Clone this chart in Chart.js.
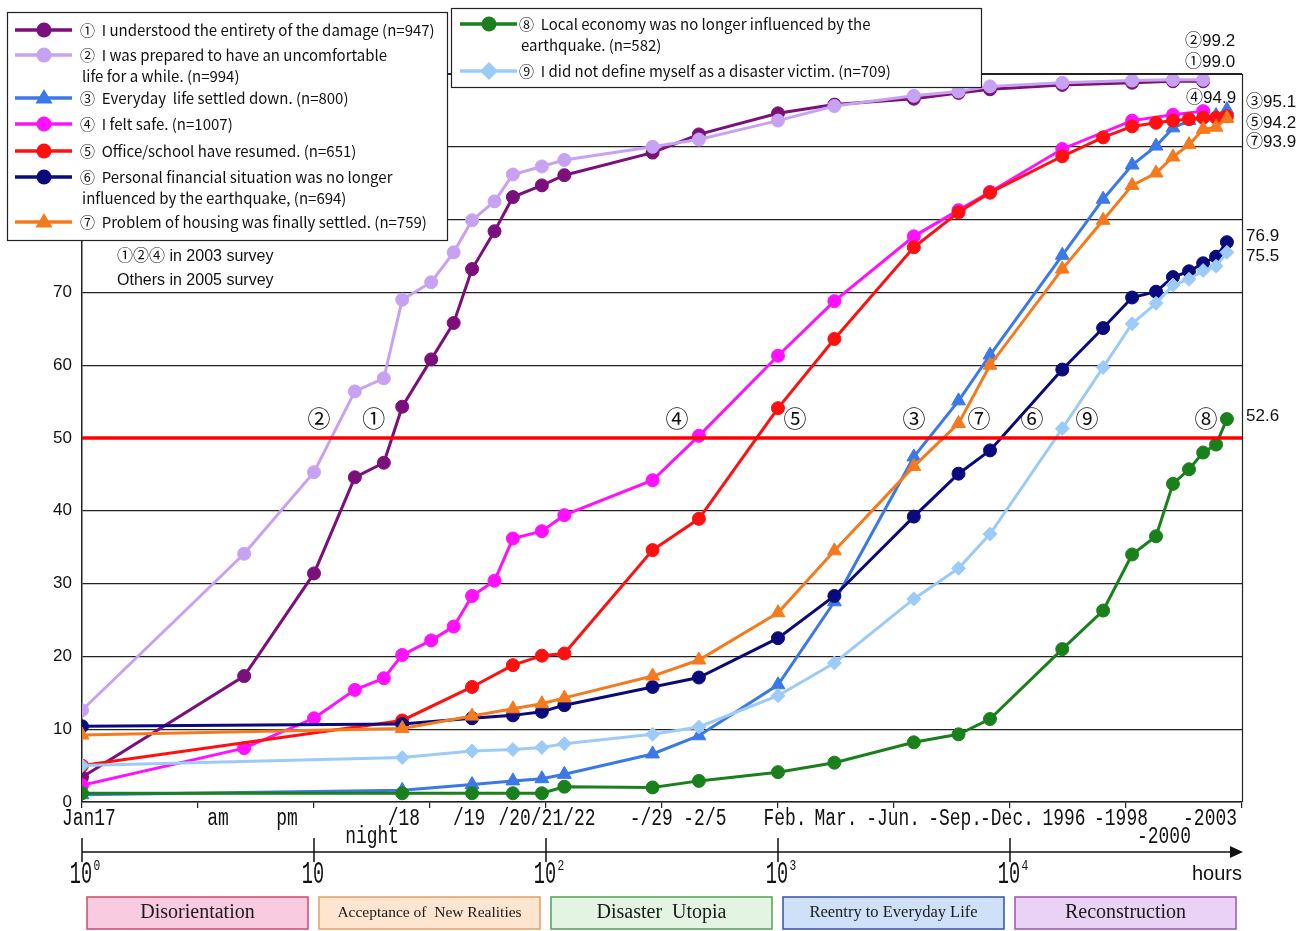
<!DOCTYPE html>
<html lang="en">
<head>
<meta charset="UTF-8">
<title>Recovery after the earthquake</title>
<script src="https://cdn.jsdelivr.net/npm/chart.js"></script>
<style>
  html, body { margin: 0; padding: 0; background: #fff; }
</style>
</head>
<body>
<canvas id="chart" width="1311" height="931"></canvas>
<script>
// survey time points (hours after the quake) and cumulative % per item
const HOURS = [1, 5, 10, 15, 20, 24, 32, 40, 48, 60, 72, 96, 120, 288, 456, 1000, 1750, 3850, 6000, 8200,
  16800, 25200, 33600, 42600, 50400, 59100, 68000, 77300, 86100];

const understoodDamage = [3.4, 17.3, 31.4, 44.6, 46.6, 54.3, 60.8, 65.8, 73.2, 78.4, 83.1, 84.7, 86.1, 89.2, 91.7, 94.6, 95.8, 96.6, 97.4, 97.9,
  98.5, null, 98.8, null, 99.0, null, 99.0, null, null];
const preparedUncomfortable = [12.6, 34.1, 45.3, 56.4, 58.2, 69.0, 71.4, 75.5, 79.9, 82.5, 86.2, 87.3, 88.2, 90.0, 91.0, 93.6, 95.6, 97.0, 97.6, 98.3,
  98.8, null, 99.1, null, 99.2, null, 99.2, null, null];
const lifeSettled = [1.0, null, null, null, null, 1.6, null, null, 2.4, null, 2.9, 3.2, 3.8, 6.6, 9.1, 16.1, 27.5, 47.4, 55.1, 61.4,
  75.1, 82.8, 87.5, 90.1, 92.6, 93.6, 94.2, 94.3, 95.1];
const feltSafe = [2.3, 7.4, 11.5, 15.4, 17.0, 20.2, 22.2, 24.1, 28.3, 30.4, 36.2, 37.2, 39.4, 44.2, 50.3, 61.3, 68.8, 77.7, 81.3, 83.8,
  89.7, null, 93.6, null, 94.4, null, 94.9, null, null];
const officeResumed = [5.0, null, null, null, null, 11.2, null, null, 15.8, null, 18.8, 20.1, 20.4, 34.6, 38.9, 54.1, 63.6, 76.2, 81.0, 83.7,
  88.7, 91.3, 92.8, 93.3, 93.6, 93.8, 94.0, 94.0, 94.2];
const financeUnaffected = [10.4, null, null, null, null, 10.7, null, null, 11.5, null, 11.9, 12.4, 13.3, 15.8, 17.1, 22.5, 28.3, 39.2, 45.1, 48.3,
  59.4, 65.1, 69.3, 70.1, 72.1, 72.9, 74.0, 74.9, 76.9];
const housingSettled = [9.2, null, null, null, null, 10.1, null, null, 11.8, null, 12.8, 13.5, 14.3, 17.3, 19.5, 26.0, 34.5, 46.1, 52.0, 60.0,
  73.2, 79.9, 84.7, 86.4, 88.6, 90.3, 92.4, 92.7, 93.9];
const localEconomy = [1.2, null, null, null, null, 1.2, null, null, 1.2, null, 1.2, 1.2, 2.1, 2.0, 2.9, 4.1, 5.4, 8.2, 9.3, 11.4,
  21.0, 26.3, 34.0, 36.5, 43.7, 45.7, 48.0, 49.1, 52.6];
const notVictim = [5.0, null, null, null, null, 6.1, null, null, 7.0, null, 7.2, 7.5, 8.0, 9.3, 10.3, 14.6, 19.1, 27.9, 32.1, 36.8,
  51.3, 59.7, 65.7, 68.5, 71.0, 71.8, 73.0, 73.6, 75.5];

const THRESHOLD = 50;

const seriesNames = [
  ['①  I understood the entirety of the damage (n=947)'],
  ['②  I was prepared to have an uncomfortable', 'life for a while. (n=994)'],
  ['③  Everyday  life settled down. (n=800)'],
  ['④  I felt safe. (n=1007)'],
  ['⑤  Office/school have resumed. (n=651)'],
  ['⑥  Personal financial situation was no longer', 'influenced by the earthquake, (n=694)'],
  ['⑦  Problem of housing was finally settled. (n=759)'],
  ['⑧  Local economy was no longer influenced by the', 'earthquake. (n=582)'],
  ['⑨  I did not define myself as a disaster victim. (n=709)']
];

// date labels above the hour axis
const dateLabels = ['Jan17', 'am', 'pm', '/18', 'night', '/19', '/20/21/22', '-/29', '-2/5', 'Feb.', 'Mar.', '-Jun.',
  '-Sep.', '-Dec.', '1996', '-1998', '-2000', '-2003'];
const dateHours = [1.07, 3.86, 7.65, 24.4, 17.8, 46.6, 101, 284, 484, 1072, 1778, 3133, 5796, 9707, 17100, 30090, 46100, 72800];
const dateRow = [0, 0, 0, 0, 1, 0, 0, 0, 0, 0, 0, 0, 0, 0, 0, 0, 1, 0];

const phaseNames = ['Disorientation', 'Acceptance of  New Realities', 'Disaster  Utopia', 'Reentry to Everyday Life', 'Reconstruction'];
const phaseFill = ['#F9CBE1', '#FDE5CF', '#E3F5E2', '#CFE1F8', '#E9D2F4'];
const phaseEdge = ['#D4536E', '#E8A46C', '#5FA65E', '#3C5CB6', '#A55CB5'];
const phaseFont = [20, 15.5, 20, 16.5, 20];

const SERIES = [
  { values: understoodDamage, color: '#7B0F7B', style: 'circle', r: 6.5 },
  { values: preparedUncomfortable, color: '#C8A2F2', style: 'circle', r: 6.5 },
  { values: lifeSettled, color: '#3B78E8', style: 'triangle', r: 8 },
  { values: feltSafe, color: '#FF10FF', style: 'circle', r: 6.5 },
  { values: officeResumed, color: '#FF1010', style: 'circle', r: 6.5 },
  { values: financeUnaffected, color: '#0A0A7C', style: 'circle', r: 6.5 },
  { values: housingSettled, color: '#F57A1E', style: 'triangle', r: 8 },
  { values: localEconomy, color: '#1A801C', style: 'circle', r: 6.5 },
  { values: notVictim, color: '#9CCBFA', style: 'rectRot', r: 7 }
];

const datasets = [{
  label: 'threshold',
  data: [{ x: 1, y: THRESHOLD }, { x: 100000, y: THRESHOLD }],
  borderColor: '#FF0000',
  borderWidth: 3.5,
  pointRadius: 0,
  clip: false
}];
// later items drawn on top, like the original
for (let i = SERIES.length - 1; i >= 0; i--) {
  const s = SERIES[i];
  datasets.push({
    label: seriesNames[i][0],
    data: HOURS.map((h, k) => ({ x: h, y: s.values[k] })).filter(p => p.y !== null),
    borderColor: s.color,
    backgroundColor: s.color,
    borderWidth: 3,
    pointStyle: s.style,
    pointRadius: s.r,
    pointBorderWidth: 1,
    tension: 0
  });
}

function narrow(c, text, x, y, size, sx, align, family) {
  c.save();
  c.font = size + 'px ' + (family || '"Liberation Mono", monospace');
  c.translate(x, y);
  c.scale(sx, 1);
  c.textAlign = align || 'center';
  c.textBaseline = 'middle';
  c.fillText(text, 0, 0);
  c.restore();
}

function marker(c, style, x, y, r, color) {
  c.fillStyle = color;
  c.beginPath();
  if (style === 'triangle') {
    c.moveTo(x, y - r); c.lineTo(x + r * 0.95, y + r * 0.6); c.lineTo(x - r * 0.95, y + r * 0.6);
  } else if (style === 'rectRot') {
    c.moveTo(x, y - r); c.lineTo(x + r, y); c.lineTo(x, y + r); c.lineTo(x - r, y);
  } else {
    c.arc(x, y, r, 0, Math.PI * 2);
  }
  c.closePath();
  c.fill();
}

const overlay = {
  id: 'overlay',
  afterDraw(chart) {
    const c = chart.ctx, xs = chart.scales.x, ys = chart.scales.y, a = chart.chartArea;
    const LEG_FONT = '15px "Noto Sans CJK JP", "Liberation Sans", sans-serif';
    c.save();

    // right and top border of the plot
    c.strokeStyle = '#222'; c.lineWidth = 1.2;
    c.beginPath(); c.moveTo(a.right + 0.5, a.top); c.lineTo(a.right + 0.5, a.bottom); c.stroke();
    c.beginPath(); c.moveTo(a.left, a.top + 0.5); c.lineTo(a.right, a.top + 0.5); c.stroke();

    // date labels
    c.fillStyle = '#111';
    dateLabels.forEach((t, i) => {
      narrow(c, t, xs.getPixelForValue(dateHours[i]), dateRow[i] ? 837 : 819, 23, 0.78);
    });

    // hours axis with arrow
    const ay = 852;
    c.strokeStyle = '#111'; c.lineWidth = 1.5;
    c.beginPath(); c.moveTo(a.left, ay); c.lineTo(a.right - 10, ay); c.stroke();
    c.fillStyle = '#111';
    c.beginPath(); c.moveTo(a.right + 1, ay); c.lineTo(a.right - 12, ay - 6); c.lineTo(a.right - 12, ay + 6); c.closePath(); c.fill();
    const sup = ['0', '', '2', '3', '4'];
    for (let d = 0; d <= 4; d++) {
      const px = xs.getPixelForValue(Math.pow(10, d));
      c.beginPath(); c.moveTo(px, ay - 14); c.lineTo(px, ay + 10); c.stroke();
      narrow(c, '10', px - 1, 875, 31, 0.6);
      if (sup[d]) narrow(c, sup[d], px + 15, 866, 15, 0.75);
    }
    c.font = '20px "Liberation Sans", sans-serif';
    c.textAlign = 'right'; c.textBaseline = 'middle';
    c.fillText('hours', a.right, 874);

    // phase boxes
    for (let d = 0; d < 5; d++) {
      const l = xs.getPixelForValue(Math.pow(10, d)) + 5;
      const r = xs.getPixelForValue(Math.pow(10, d + 1)) - 6;
      c.fillStyle = phaseFill[d];
      c.fillRect(l, 897, r - l, 32);
      c.strokeStyle = phaseEdge[d]; c.lineWidth = 1.6;
      c.strokeRect(l, 897, r - l, 32);
      c.fillStyle = '#1a1a1a';
      c.font = phaseFont[d] + 'px "Liberation Serif", serif';
      c.textAlign = 'center'; c.textBaseline = 'middle';
      c.fillText(phaseNames[d], (l + r) / 2, 913);
    }

    // circled identifiers next to the curves
    const tagText = ['②', '①', '④', '⑤', '③', '⑦', '⑥', '⑨', '⑧'];
    const tagHours = [10.5, 18.1, 367, 1184, 3855, 7350, 12430, 21480, 69960];
    c.fillStyle = '#111';
    c.font = '23px "Noto Sans CJK JP", sans-serif';
    c.textAlign = 'center'; c.textBaseline = 'middle';
    tagText.forEach((t, i) => c.fillText(t, xs.getPixelForValue(tagHours[i]), ys.getPixelForValue(52.7)));

    // final values
    const last = v => v.filter(p => p !== null).slice(-1)[0].toFixed(1);
    const ends = [
      ['②' + last(preparedUncomfortable), 1185, 41],
      ['①' + last(understoodDamage), 1185, 62],
      ['④' + last(feltSafe), 1186, 98],
      ['③' + last(lifeSettled), 1246, 102],
      ['⑤' + last(officeResumed), 1246, 123],
      ['⑦' + last(housingSettled), 1246, 142],
      [last(financeUnaffected), 1246, 236],
      [last(notVictim), 1246, 256],
      [last(localEconomy), 1246, 416]
    ];
    c.font = '17px "Liberation Sans", "Noto Sans CJK JP", sans-serif';
    c.textAlign = 'left';
    ends.forEach(e => c.fillText(e[0], e[1], e[2]));

    // survey note
    c.font = '16px "Liberation Sans", "Noto Sans CJK JP", sans-serif';
    c.fillText('①②④ in 2003 survey', 117, 257);
    c.fillText('Others in 2005 survey', 117, 281);

    // legend boxes
    const boxes = [
      { x: 7, y: 12, w: 440, h: 228, items: [0, 1, 2, 3, 4, 5, 6], rows: [30, 55, 98, 124, 151, 177, 222], lx: 15, tx: 80 },
      { x: 451, y: 8, w: 530, h: 79, items: [7, 8], rows: [24, 71], lx: 460, tx: 519 }
    ];
    c.font = LEG_FONT;
    const k = Math.min(1, 362 / c.measureText(seriesNames[0][0]).width);
    boxes.forEach(b => {
      c.fillStyle = '#fff';
      c.fillRect(b.x, b.y, b.w, b.h);
      c.strokeStyle = '#222'; c.lineWidth = 1.2;
      c.strokeRect(b.x + 0.5, b.y + 0.5, b.w, b.h);
      b.items.forEach((si, j) => {
        const s = SERIES[si], ry = b.rows[j];
        c.strokeStyle = s.color; c.lineWidth = 3.5;
        c.beginPath(); c.moveTo(b.lx, ry); c.lineTo(b.lx + 57, ry); c.stroke();
        marker(c, s.style, b.lx + 29, ry, s.style === 'circle' ? 7.5 : 9, s.color);
        c.fillStyle = '#111';
        seriesNames[si].forEach((line, n) => {
          c.save();
          c.font = LEG_FONT;
          c.textAlign = 'left'; c.textBaseline = 'middle';
          c.translate(n ? b.tx + 2 : b.tx, ry + n * 21);
          c.scale(k, 1);
          c.fillText(line, 0, 0);
          c.restore();
        });
      });
    });
    c.restore();
  }
};

const ctx = document.getElementById('chart').getContext('2d');
new Chart(ctx, {
  type: 'line',
  data: { datasets },
  options: {
    responsive: false,
    animation: false,
    layout: { padding: { top: 74, right: 69, left: 0, bottom: 0 } },
    plugins: { legend: { display: false }, tooltip: { enabled: false } },
    scales: {
      x: {
        type: 'logarithmic',
        min: 1,
        max: 100000,
        afterBuildTicks: s => {
          const t = [];
          for (let i = 0; i <= 10; i++) t.push({ value: Math.pow(10, i / 2) });
          s.ticks = t;
        },
        afterFit: s => { s.height = 129; },
        ticks: { display: false },
        grid: { drawOnChartArea: false, drawTicks: true, tickLength: 6, color: '#222', lineWidth: 1.2 },
        border: { display: true, color: '#222', width: 1.5 }
      },
      y: {
        min: 0,
        max: 100,
        afterFit: s => { s.width = 82; },
        ticks: { stepSize: 10, padding: 10, color: '#111', font: { family: '"Liberation Sans", sans-serif', size: 17 } },
        grid: { color: '#222', lineWidth: 1.2, drawTicks: false },
        border: { display: true, color: '#222', width: 1.5 }
      }
    }
  },
  plugins: [overlay]
});
</script>
</body>
</html>
